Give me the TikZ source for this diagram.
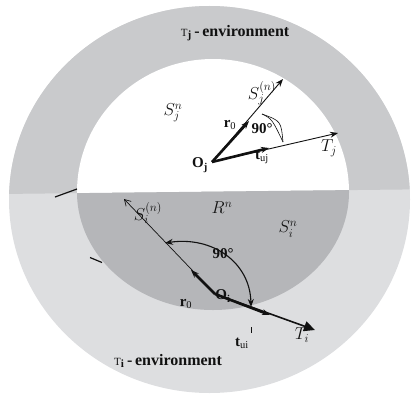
\documentclass[tikz,border=0pt]{standalone}
\usepackage{fontspec}
\setmainfont{Liberation Serif}
\usetikzlibrary{arrows.meta,calc}
\definecolor{ringj}{HTML}{C9CACC}
\definecolor{ringi}{HTML}{DDDEE0}
\definecolor{core}{HTML}{B5B6B9}
\definecolor{ink}{HTML}{111111}

\begin{document}
\begin{tikzpicture}[x=1pt, y=-1pt,
  font=\fontsize{17}{19}\selectfont, >={Stealth[length=8pt,width=6pt]},
  lab/.style={inner sep=1pt, text=ink},
  envlab/.style={lab, font=\fontsize{16}{18}\selectfont\bfseries},
  boldlab/.style={lab, font=\fontsize{15}{17}\selectfont\bfseries},
  thick vec/.style={->, line width=2.6pt, draw=ink},
  thin vec/.style={->, line width=0.9pt, draw=ink},
  tick/.style={line width=1.2pt, draw=ink}
]
\useasboundingbox (0,0) rectangle (411,396);
% ---------------- environments
\fill[ringi] (209.5,199.5) ellipse [x radius=200.5, y radius=193.5];
\begin{scope}
  \clip (0,0) -- (411,0) -- (411,189.4) -- (0,194) -- cycle;
  \fill[ringj] (209.5,199.5) ellipse [x radius=200.5, y radius=193.5];
  \fill[white] (213,192) ellipse [x radius=136, y radius=133];
\end{scope}
\begin{scope}
  \clip (0,396) -- (411,396) -- (411,189.4) -- (0,194) -- cycle;
  \fill[core] (213,192) ellipse [x radius=136, y radius=118];
\end{scope}
\draw[tick] (55,197) -- (77,189);
\draw[tick] (90,257.5) -- (102,262.5);
% ---------------- tau_j side
\coordinate (Oj) at (212,162);
\coordinate (rj) at (249,121);
\coordinate (Sj) at (283,79);
\coordinate (tj) at (269,148);
\coordinate (Tj) at (338,133);
\draw[thin vec] (Oj) -- (Sj);
\draw[thin vec] (Oj) -- (Tj);
\draw[thick vec] (Oj) -- (rj);
\draw[thick vec] (Oj) -- (tj);
\coordinate (aj1) at (262,114);
\coordinate (aj2) at (283,142);
\node[envlab] (envj) at (235,33) {{\mdseries\fontsize{11}{11}\selectfont T}\textsubscript{j}\,-\,environment};
\node[lab] (snj) at (173,113) {$S_j^n$};
\node[lab] (snnj) at (262,93) {$S_j^{(n)}$};
\node[boldlab] (r0j) at (230,125) {r\textsubscript{\mdseries 0}};
\node[boldlab] (a90j) at (262,129) {90°};
\draw[line width=0.6pt, ink] (aj1) .. controls (272,119) .. (aj2);
\draw[line width=0.6pt, ink] (aj1) .. controls (281,121) .. (aj2);
\node[boldlab] (lOj) at (200,165) {O\textsubscript{j}};
\node[boldlab] (ltj) at (262,157) {t\textsubscript{\mdseries uj}};
\node[lab] (lTj) at (329,148) {$T_j$};
% ---------------- tau_i side
\coordinate (Oi) at (215,294);
\coordinate (ri) at (191,270);
\coordinate (Si) at (124,199);
\coordinate (ti) at (270,315);
\coordinate (Ti) at (315,330);
\draw[line width=0.7pt, ink, -{Straight Barb[length=6pt,width=7pt]}] (Oi) -- (Si);
\draw[thick vec] (Oi) -- (ri);
\draw[line width=1.6pt, ink, -{Triangle[length=11pt,width=10pt]}] (Oi) -- (Ti);
\draw[thick vec] (Oi) -- (ti);
\coordinate (ai1) at (165,243);
\coordinate (ai2) at (251,307);
\draw[line width=1.1pt, ink, {Stealth[length=8pt,width=6pt]}-{Stealth[length=8pt,width=6pt]}] (ai1) .. controls (212,236) and (250,262) .. (ai2);
\draw[line width=0.8pt, ink] (251,327) -- (251,333);
\node[envlab] (envi) at (168,361) {{\mdseries\fontsize{11}{11}\selectfont T}\textsubscript{i}\,-\,environment};
\node[lab, font=\fontsize{18}{20}\selectfont] (Rn) at (222,208) {$R^n$};
\node[lab] (sni) at (288,229) {$S_i^n$};
\node[lab] (snni) at (148,213) {$S_i^{(n)}$};
\node[boldlab] (r0i) at (186,304) {r\textsubscript{\mdseries 0}};
\node[boldlab] (a90i) at (223,254) {90°};
\node[boldlab] (lOi) at (223,296) {O\textsubscript{i}};
\node[boldlab] (lti) at (242,343) {t\textsubscript{\mdseries ui}};
\node[lab] (lTi) at (302,335) {$T_i$};
\end{tikzpicture}
\end{document}
